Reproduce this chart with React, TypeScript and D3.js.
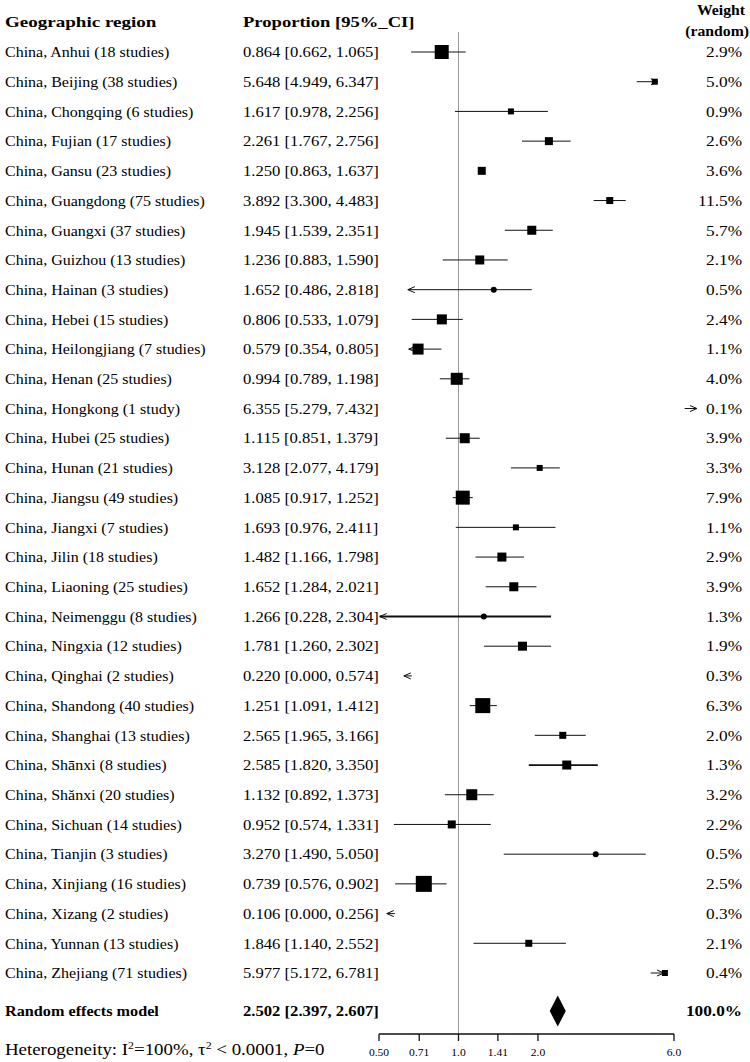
import React from "react";
import * as d3 from "d3";

const regions = [
  "China, Anhui (18 studies)", "China, Beijing (38 studies)", "China, Chongqing (6 studies)",
  "China, Fujian (17 studies)", "China, Gansu (23 studies)", "China, Guangdong (75 studies)",
  "China, Guangxi (37 studies)", "China, Guizhou (13 studies)", "China, Hainan (3 studies)",
  "China, Hebei (15 studies)", "China, Heilongjiang (7 studies)", "China, Henan (25 studies)",
  "China, Hongkong (1 study)", "China, Hubei (25 studies)", "China, Hunan (21 studies)",
  "China, Jiangsu (49 studies)", "China, Jiangxi (7 studies)", "China, Jilin (18 studies)",
  "China, Liaoning (25 studies)", "China, Neimenggu (8 studies)", "China, Ningxia (12 studies)",
  "China, Qinghai (2 studies)", "China, Shandong (40 studies)", "China, Shanghai (13 studies)",
  "China, Shānxi (8 studies)", "China, Shǎnxi (20 studies)", "China, Sichuan (14 studies)",
  "China, Tianjin (3 studies)", "China, Xinjiang (16 studies)", "China, Xizang (2 studies)",
  "China, Yunnan (13 studies)", "China, Zhejiang (71 studies)",
];

// printed proportion and 95% CI
const estimate = [0.864, 5.648, 1.617, 2.261, 1.25, 3.892, 1.945, 1.236, 1.652, 0.806, 0.579, 0.994, 6.355, 1.115, 3.128, 1.085, 1.693, 1.482, 1.652, 1.266, 1.781, 0.22, 1.251, 2.565, 2.585, 1.132, 0.952, 3.27, 0.739, 0.106, 1.846, 5.977];
const ciLower = [0.662, 4.949, 0.978, 1.767, 0.863, 3.3, 1.539, 0.883, 0.486, 0.533, 0.354, 0.789, 5.279, 0.851, 2.077, 0.917, 0.976, 1.166, 1.284, 0.228, 1.26, 0.0, 1.091, 1.965, 1.82, 0.892, 0.574, 1.49, 0.576, 0.0, 1.14, 5.172];
const ciUpper = [1.065, 6.347, 2.256, 2.756, 1.637, 4.483, 2.351, 1.59, 2.818, 1.079, 0.805, 1.198, 7.432, 1.379, 4.179, 1.252, 2.411, 1.798, 2.021, 2.304, 2.302, 0.574, 1.412, 3.166, 3.35, 1.373, 1.331, 5.05, 0.902, 0.256, 2.552, 6.781];
const weights = ["2.9%", "5.0%", "0.9%", "2.6%", "3.6%", "11.5%", "5.7%", "2.1%", "0.5%", "2.4%", "1.1%", "4.0%", "0.1%", "3.9%", "3.3%", "7.9%", "1.1%", "2.9%", "3.9%", "1.3%", "1.9%", "0.3%", "6.3%", "2.0%", "1.3%", "3.2%", "2.2%", "0.5%", "2.5%", "0.3%", "2.1%", "0.4%"];

// positions of the drawn marks (axis units)
const plotEst = [0.864, 5.54, 1.58, 2.2, 1.225, 3.74, 1.895, 1.204, 1.36, 0.865, 0.703, 0.985, NaN, 1.056, 2.03, 1.038, 1.65, 1.46, 1.62, 1.247, 1.747, NaN, 1.236, 2.483, 2.571, 1.123, 0.943, 3.31, 0.739, NaN, 1.846, 6.05];
const plotLo = [0.662, 4.73, 0.97, 1.74, 1.225, 3.25, 1.497, 0.872, 0.643, 0.665, 0.648, 0.85, 7.19, 0.895, 1.58, 0.951, 0.977, 1.16, 1.268, 0.503, 1.25, 0.621, 1.103, 1.945, 1.846, 0.888, 0.569, 1.484, 0.576, 0.535, 1.14, 5.35];
const plotHi = [1.065, 5.69, 2.18, 2.66, 1.225, 4.3, 2.275, 1.537, 1.895, 1.038, 0.862, 1.1, 8.0, 1.204, 2.42, 1.133, 2.33, 1.77, 1.974, 2.242, 2.242, 0.666, 1.397, 3.034, 3.37, 1.36, 1.325, 5.12, 0.902, 0.574, 2.552, 6.0];
// marker side
const markerSize = [14, 6, 6, 8, 8, 7, 9, 9, 6, 10, 11, 12, 0, 10, 6, 14, 6, 9, 9, 6, 9, 0, 15, 7, 9, 11, 8, 6, 16, 0, 7, 6];
const dotMarker = [8, 19, 27];
const thickLine = [19, 24];

const pooled = { label: "Random effects model", text: "2.502 [2.397, 2.607]", weight: "100.0%", est: 2.377, lo: 2.216, hi: 2.549 };
const tickValues = [0.5, 0.71, 1.0, 1.41, 2.0, 6.55];
const tickLabels = ["0.50", "0.71", "1.0", "1.41", "2.0", "6.0"];
const xLimLow = 0.5;
const xLimHigh = 6.0;

const FONT = "'Liberation Serif', 'Times New Roman', Times, serif";

function T({ x, y, children, size = 15, weight = "normal", anchor = "start", sx = 1.1 }: any) {
  return (
    <text
      transform={`translate(${x},${y}) scale(${sx},1)`}
      fontFamily={FONT}
      fontSize={size}
      fontWeight={weight}
      textAnchor={anchor}
      dy="0.35em"
      fill="#000"
    >
      {children}
    </text>
  );
}

export default function App() {
  const W = 750, H = 1062;
  const x = d3.scaleLog().domain([0.5, 6.55]).range([379, 674]);
  const y = d3.scaleLinear().domain([0, regions.length - 1]).range([52, 973]);
  const fmt = d3.format(".3f");
  const axisY = 1034;
  const refTop = 32;

  const arrowHead = (xt: number, yc: number, dir: number, key: string) => (
    <path key={key} d={`M${xt - dir * 7},${yc - 3} L${xt},${yc} L${xt - dir * 7},${yc + 3}`} fill="none" stroke="#111" strokeWidth={1} />
  );

  const pd = x(pooled.est), pl = x(pooled.lo), ph = x(pooled.hi), py = 1011;

  return (
    <svg width={W} height={H} style={{ position: "absolute", left: 0, top: 0, background: "#fff" }}>
      <rect width={W} height={H} fill="#fff" />
      {/* headers */}
      <T x={5} y={22} weight="bold" sx={1.27}>Geographic region</T>
      <T x={243} y={22} weight="bold" sx={1.24}>Proportion [95%_CI]</T>
      <T x={745} y={10} weight="bold" anchor="end" sx={1.05}>Weight</T>
      <T x={749} y={31} weight="bold" anchor="end" sx={1.05}>(random)</T>

      {/* reference line */}
      <line x1={x(1)} x2={x(1)} y1={refTop} y2={axisY} stroke="#999" strokeWidth={1} />

      {regions.map((r, i) => {
        const yc = y(i);
        const leftArrow = ciLower[i] < xLimLow;
        const rightArrow = ciUpper[i] > xLimHigh;
        const x1 = x(plotLo[i]), x2 = x(plotHi[i]);
        const s = markerSize[i];
        const isDot = dotMarker.includes(i);
        return (
          <g key={r}>
            <T x={5} y={yc} sx={1.066}>{r}</T>
            <T x={243} y={yc} sx={1.11}>{`${fmt(estimate[i])} [${fmt(ciLower[i])}, ${fmt(ciUpper[i])}]`}</T>
            <T x={742} y={yc} anchor="end" sx={1.15}>{weights[i]}</T>
            {x2 - x1 > 0.5 && (
              <line x1={x1} x2={x2} y1={yc} y2={yc} stroke="#111" strokeWidth={thickLine.includes(i) ? 1.8 : 1} />
            )}
            {leftArrow && arrowHead(x1, yc, -1, "la")}
            {rightArrow && arrowHead(x2, yc, 1, "ra")}
            {!isNaN(plotEst[i]) && s > 0 && (
              isDot ? (
                <circle cx={x(plotEst[i])} cy={yc} r={s / 2} fill="#000" />
              ) : (
                <rect x={x(plotEst[i]) - s / 2} y={yc - s / 2} width={s} height={s} fill="#000" />
              )
            )}
          </g>
        );
      })}

      {/* pooled */}
      <T x={5} y={py} weight="bold" sx={1.08}>{pooled.label}</T>
      <T x={243} y={py} weight="bold" sx={1.11}>{pooled.text}</T>
      <T x={742} y={py} weight="bold" anchor="end" sx={1.15}>{pooled.weight}</T>
      <path d={`M${pl},${py} L${pd},${py - 15.5} L${ph},${py} L${pd},${py + 15.5} Z`} fill="#000" />

      {/* axis */}
      <line x1={x(tickValues[0])} x2={x(tickValues[tickValues.length - 1])} y1={axisY} y2={axisY} stroke="#111" strokeWidth={1.3} />
      {tickValues.map((t, k) => (
        <g key={t}>
          <line x1={x(t)} x2={x(t)} y1={axisY} y2={axisY + 7} stroke="#111" strokeWidth={1.3} />
          <T x={x(t)} y={axisY + 18} size={11} anchor="middle" sx={1.05}>{tickLabels[k]}</T>
        </g>
      ))}

      {/* heterogeneity */}
      <T x={5} y={1049} size={16} sx={1.18}>
        {"Heterogeneity: I"}
        <tspan baselineShift="super" fontSize={10}>2</tspan>
        {"=100%, τ"}
        <tspan baselineShift="super" fontSize={10}>2</tspan>
        {" < 0.0001, "}
        <tspan fontStyle="italic">P</tspan>
        {"=0"}
      </T>
    </svg>
  );
}
